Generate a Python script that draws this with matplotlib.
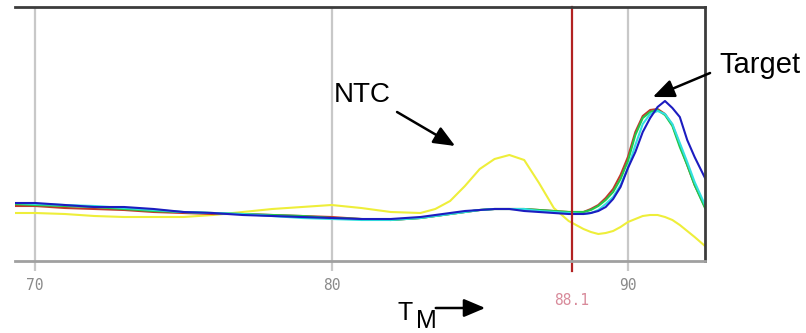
import matplotlib
matplotlib.use("Agg")
from matplotlib import pyplot as plt

# melt curve readings (temperature in C, signal in arbitrary units)
temps = [69.3, 70, 71, 72, 73, 74, 75, 76, 77, 78, 79, 80, 81, 82, 83, 83.5,
         84, 84.5, 85, 85.5, 86, 86.5, 87, 87.5, 88, 88.5, 88.75, 89, 89.25,
         89.5, 89.75, 90, 90.25, 90.5, 90.75, 91, 91.25, 91.5, 91.75, 92,
         92.25, 92.6]

ntc = [48, 48, 47, 45, 44, 44, 44, 46, 49, 52, 54, 56, 53, 49, 48, 52,
       60, 75, 92, 102, 106, 101, 78, 53, 40, 32, 29, 27, 28,
       30, 34, 39, 42, 45, 46, 46, 44, 41, 36, 30,
       24, 15]
red = [55, 55, 53, 52, 51, 49, 48, 47, 47, 46, 45, 44, 42, 41, 43, 45,
       47, 49, 51, 52, 52, 52, 51, 50, 49, 49, 52, 56, 63,
       72, 86, 104, 129, 145, 151, 152, 147, 136, 116, 96,
       76, 54]
green = [57, 56, 55, 54, 52, 50, 49, 48, 47, 46, 45, 43, 42, 41, 43, 45,
         47, 49, 51, 52, 52, 52, 51, 50, 49, 49, 51, 55, 61,
         69, 82, 100, 126, 143, 149, 151, 146, 135, 114, 96,
         76, 53]
cyan = [58, 57, 56, 55, 53, 51, 49, 48, 47, 45, 43, 42, 41, 41, 43, 45,
        47, 49, 51, 52, 52, 52, 50, 49, 48, 47, 48, 51, 57,
        64, 76, 93, 116, 137, 147, 150, 147, 137, 118, 99,
        79, 56]
blue = [58, 58, 56, 54, 54, 52, 49, 48, 46, 45, 44, 43, 42, 42, 44, 46,
        48, 50, 51, 52, 52, 50, 49, 48, 47, 47, 48, 50, 54,
        62, 74, 93, 109, 129, 143, 154, 160, 153, 144, 121,
        104, 83]

tm_value = 88.1
x_ticks = [70, 80, 90]

fig = plt.figure(figsize=(8.06, 3.33), dpi=100)
ax = fig.add_axes([15 / 806, 1 - 261 / 333, 690 / 806, 254 / 333])

for x in x_ticks:
    ax.axvline(x, color="#c8c8c8", lw=1.6, zorder=0)

lw = 1.5
ax.plot(temps, ntc, color="#eeee3a", lw=lw)
ax.plot(temps, red, color="#c0392b", lw=lw)
ax.plot(temps, green, color="#22c84a", lw=lw)
ax.plot(temps, cyan, color="#33e0e0", lw=lw)
ax.plot(temps, blue, color="#1c1cc0", lw=lw)

ax.axvline(tm_value, ymin=-0.04, ymax=1, color="#b22222", lw=1.6,
           clip_on=False)

ax.set_xlim(69.32, 92.6)
ax.set_ylim(0, 254)
ax.set_xticks(x_ticks)
ax.set_xticklabels([str(x) for x in x_ticks], family="DejaVu Sans Mono",
                   fontsize=10.5, color="#8a8a8a")
ax.tick_params(axis="x", length=7, width=1.6, color="#c8c8c8", pad=5)
ax.set_yticks([])

ax.spines["left"].set_visible(False)
for side in ["top", "right"]:
    ax.spines[side].set_color("#3c3c3c")
    ax.spines[side].set_linewidth(2)
ax.spines["bottom"].set_color("#a0a0a0")
ax.spines["bottom"].set_linewidth(2)

ax.text(tm_value, -0.155, "88.1", transform=ax.get_xaxis_transform(),
        ha="center", va="center", family="DejaVu Sans Mono", fontsize=10.5,
        color="#d88a9a")

arrow = dict(arrowstyle="-|>,head_length=1.3,head_width=0.55",
             color="black", lw=1.8, shrinkA=0, shrinkB=0)

ax.text(81.03, 166, "NTC", ha="center", va="center", fontsize=20,
        family="Liberation Sans")
ax.annotate("", xy=(84.17, 115), xytext=(82.21, 149), arrowprops=arrow,
            annotation_clip=False)

ax.text(94.45, 196, "Target", ha="center", va="center", fontsize=21,
        family="Liberation Sans", clip_on=False)
ax.annotate("", xy=(90.84, 164), xytext=(92.77, 188), arrowprops=arrow,
            annotation_clip=False)

fig.text(398 / 806, 1 - 320 / 333, "T", fontsize=18, family="Liberation Sans",
         va="baseline")
fig.text(416 / 806, 1 - 328 / 333, "M", fontsize=18, family="Liberation Sans",
         va="baseline")
fig.add_artist(matplotlib.patches.FancyArrowPatch(
    (433 / 806, 1 - 308 / 333), (488 / 806, 1 - 308 / 333),
    transform=fig.transFigure, arrowstyle="-|>,head_length=1.3,head_width=0.55",
    mutation_scale=10, color="black", lw=1.8))

fig.savefig("out.png", dpi=100)
